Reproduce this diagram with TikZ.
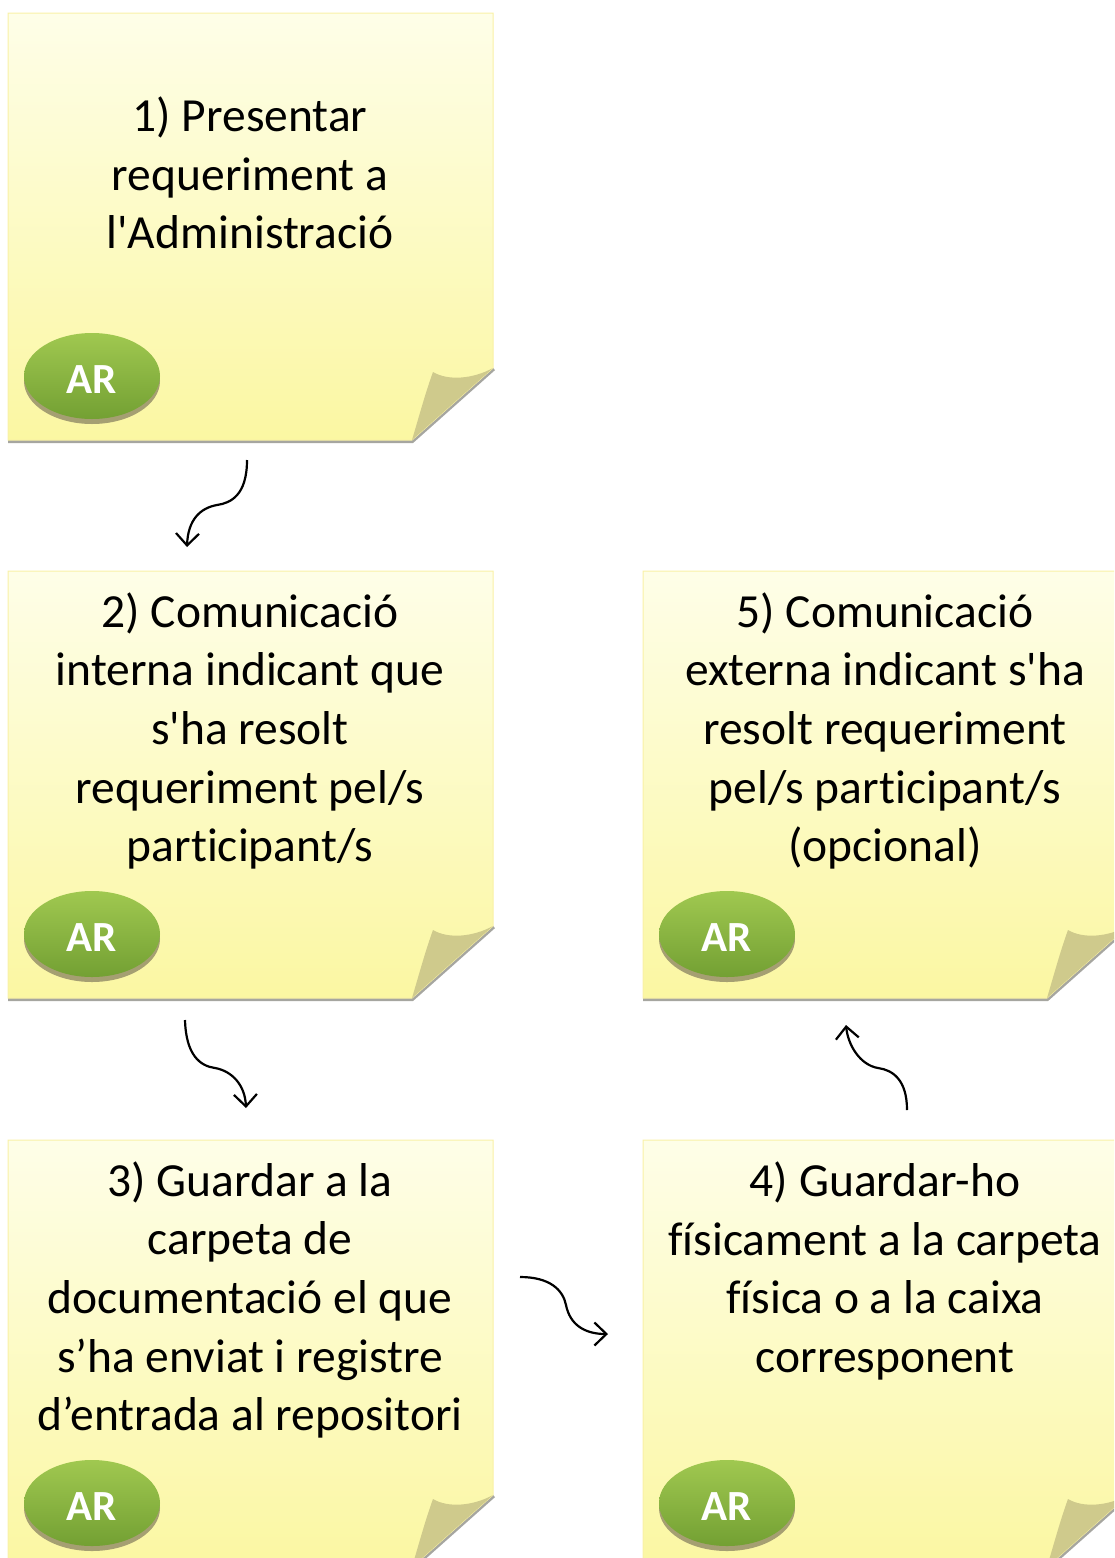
\documentclass[tikz,border=0pt]{standalone}
\usepackage{fontspec}
\newfontfamily\notefont{Carlito}[Ligatures={NoCommon,NoContextual,NoRare}]
\usetikzlibrary{arrows.meta}
\definecolor{noteTop}{HTML}{FEFEE8}
\definecolor{noteBot}{HTML}{FBF7A2}
\definecolor{noteEdge}{HTML}{F9F1A6}
\definecolor{shadowGray}{HTML}{A6A6A0}
\definecolor{flapCol}{HTML}{CFCA8C}
\definecolor{badgeTop}{HTML}{A0C850}
\definecolor{badgeBot}{HTML}{73A033}
\definecolor{badgeShadow}{HTML}{A59F72}
\newcommand\nl{\kern0pt}
\tikzset{
  notebody/.style={top color=noteTop, bottom color=noteBot, draw=noteEdge, line width=1pt},
  shadowline/.style={draw=shadowGray, line width=3pt},
  notetext/.style={align=center, inner sep=0pt, text=black,
    font=\notefont\fontsize{47.5}{58.7}\selectfont},
  badgetext/.style={inner sep=0pt, text=white,
    font=\notefont\bfseries\fontsize{43}{43}\selectfont},
  flow/.style={draw=black, line width=2.2pt,
    -{Straight Barb[length=12pt,width=23pt,line width=2.2pt]}},
}
\newcommand\snote[3]{%
  \begin{scope}[shift={(#2,#3)}]
    \draw[shadowline] (0,428.5) -- (404.5,428.5) -- (486,356);
    \path[notebody] (0,427) -- (0,0) -- (485,0) -- (485,355) -- (404,427) -- cycle;
    \fill[flapCol] (404,427) .. controls (412,400) and (418,378) .. (425,359)
       .. controls (440,368) and (465,366) .. (485,355) -- cycle;
    \fill[badgeShadow] (84,368) ellipse [x radius=68pt, y radius=43pt];
    \shade[top color=badgeTop, bottom color=badgeBot] (84,363) ellipse [x radius=68pt, y radius=43pt];
    \node[badgetext] (#1b) at (84,367) {AR};
  \end{scope}}
\begin{document}
\begin{tikzpicture}[x=1pt,y=-1pt]
\useasboundingbox (0,0) rectangle (1114,1558);
\clip (0,0) rectangle (1114,1558);
\snote{n1}{8}{13}
\snote{n2}{8}{571}
\snote{n5}{643}{571}
\snote{n3}{8}{1140}
\snote{n4}{643}{1140}
\node[notetext] (t1) at (250,173) {1) Presentar\\requeriment a\\l'Administració};
\node[notetext] (t2) at (250,731) {2) Comunicació\\interna indicant que\\s'ha resolt\\requeriment pel/s\\part\nl icipant/s};
\node[notetext] (t5) at (885,731) {5) Comunicació\\externa indicant s'ha\\resolt requeriment\\pel/s part\nl icipant/s\\(opcional)};
\node[notetext] (t3) at (250,1300) {3) Guardar a la\\carpeta de\\documentació el que\\s’ha enviat i registre\\d’entrada al repositori};
\node[notetext] (t4) at (885,1271) {4) Guardar-ho\\f\nl ísicament a la carpeta\\f\nl ísica o a la caixa\\corresponent};
\coordinate (a1s) at (247,460);
\coordinate (a1e) at (187,547);
\coordinate (a2s) at (185,1020);
\coordinate (a2e) at (246,1108);
\coordinate (a3s) at (520,1277);
\coordinate (a3e) at (608,1334);
\coordinate (a4s) at (907,1110);
\coordinate (a4e) at (846,1025);
\draw[flow] (a1s) .. controls (247,495) and (231,503) .. (217,505)
   .. controls (200,508) and (188,520) .. (a1e);
\draw[flow] (a2s) .. controls (186,1055) and (200,1066) .. (215,1068)
   .. controls (232,1071) and (245,1085) .. (a2e);
\draw[flow] (a3s) .. controls (550,1277) and (563,1290) .. (566,1305)
   .. controls (570,1325) and (585,1334) .. (a3e);
\draw[flow] (a4s) .. controls (907,1080) and (893,1070) .. (878,1068)
   .. controls (860,1065) and (848,1045) .. (a4e);
\end{tikzpicture}
\end{document}
